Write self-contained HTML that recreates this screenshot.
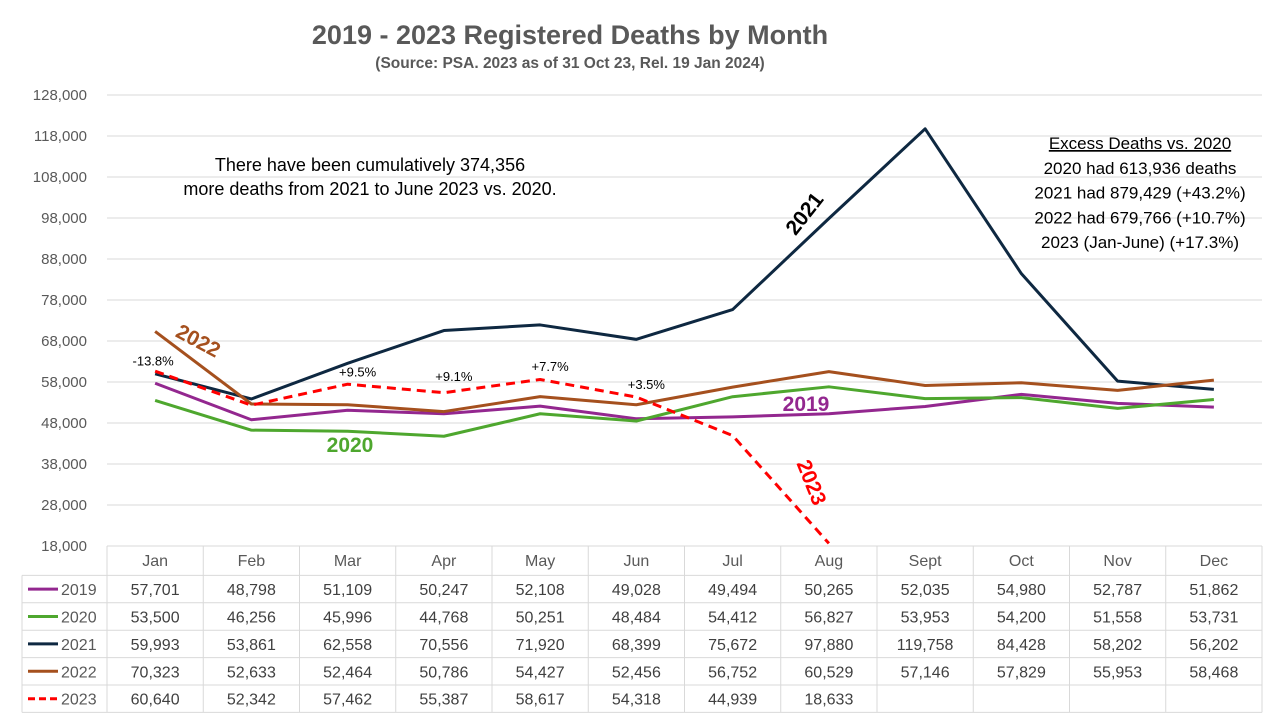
<!DOCTYPE html>
<html><head><meta charset="utf-8"><style>
body{margin:0;background:#fff;font-family:"Liberation Sans",sans-serif}
svg text{font-family:"Liberation Sans",sans-serif}
</style></head><body>
<svg id="c" width="1280" height="720" xmlns="http://www.w3.org/2000/svg"></svg>
<script>
const months=["Jan","Feb","Mar","Apr","May","Jun","Jul","Aug","Sept","Oct","Nov","Dec"];
const s2019=[57701,48798,51109,50247,52108,49028,49494,50265,52035,54980,52787,51862];
const s2020=[53500,46256,45996,44768,50251,48484,54412,56827,53953,54200,51558,53731];
const s2021=[59993,53861,62558,70556,71920,68399,75672,97880,119758,84428,58202,56202];
const s2022=[70323,52633,52464,50786,54427,52456,56752,60529,57146,57829,55953,58468];
const s2023=[60640,52342,57462,55387,58617,54318,44939,18633];
const yTicks=[18000,28000,38000,48000,58000,68000,78000,88000,98000,108000,118000,128000];
const pctLabels=["-13.8%","","+9.5%","+9.1%","+7.7%","+3.5%"];
const pctVals=[62000,0,59400,58300,60700,56300];
const NS="http://www.w3.org/2000/svg";
const svg=document.getElementById('c');
const X0=107,CW=96.25,Y0=546,Y1=95;
const x=i=>X0+CW*(i+0.5);
const y=v=>Y0-(v-18000)/(128000-18000)*(Y0-Y1);
function el(t,a,txt){const e=document.createElementNS(NS,t);for(const k in a)e.setAttribute(k,a[k]);if(txt!==undefined)e.textContent=txt;svg.appendChild(e);return e;}
const fmt=n=>n.toLocaleString('en-US');
let e=el('text',{x:570,y:44,'text-anchor':'middle','font-size':27,'font-weight':'bold',fill:'#595959'},'2019 - 2023 Registered Deaths by Month');

e=el('text',{x:570,y:68,'text-anchor':'middle','font-size':15.5,'font-weight':'bold',fill:'#595959'},'(Source: PSA.  2023 as of 31 Oct 23, Rel. 19 Jan 2024)');

yTicks.forEach(t=>{
 const g=el('line',{x1:107,x2:1262,y1:y(t),y2:y(t),stroke:'#d9d9d9','stroke-width':1});
 
 const l=el('text',{x:87,y:y(t)+5,'text-anchor':'end','font-size':15,fill:'#595959'},fmt(t));
 
});
const series=[["2019",s2019,'#93278F',false],["2020",s2020,'#4EA72E',false],["2021",s2021,'#0E2841',false],["2022",s2022,'#A5501E',false],["2023",s2023,'#FF0000',true]];
const RH=27.4,TT=546,TL=22;
for(let r=0;r<=6;r++){const yy=TT+r*RH+(r>0?2:0);const ln=el('line',{x1:r==0?X0:TL,x2:1262,y1:yy,y2:yy,stroke:'#d9d9d9'});}
const TB=TT+6*RH+2;
for(let c=0;c<=12;c++){const ln=el('line',{x1:X0+c*CW,x2:X0+c*CW,y1:TT,y2:TB,stroke:'#d9d9d9'});}
el('line',{x1:TL,x2:TL,y1:TT+RH+2,y2:TB,stroke:'#d9d9d9'});
months.forEach((m,i)=>{const t=el('text',{x:x(i),y:TT+20,'text-anchor':'middle','font-size':16,fill:'#595959'},m);});
series.forEach((s,r)=>{
 const cy=TT+(r+1)*RH+2+RH/2;
 const k=el('line',{x1:28,x2:58,y1:cy,y2:cy,stroke:s[2],'stroke-width':3,'stroke-dasharray':s[3]?'7 4':'none'});
 
 const lt=el('text',{x:61,y:cy+6,'font-size':16,fill:'#595959'},s[0]);
 
 s[1].forEach((v,i)=>{const t=el('text',{x:x(i),y:cy+6,'text-anchor':'middle','font-size':16,fill:'#404040'},fmt(v));});
});
series.forEach(s=>{
 const p=el('polyline',{points:s[1].map((v,i)=>x(i)+','+y(v)).join(' '),fill:'none',stroke:s[2],'stroke-width':3,'stroke-linejoin':'round','stroke-dasharray':s[3]?'9 6':'none'});
 
});
pctLabels.forEach((l,i)=>{if(!l)return;const t=el('text',{x:x(i)+(i==0?-2:10),y:y(pctVals[i]),'text-anchor':'middle','font-size':13,fill:'#000'},l);});
function lab(txt,xx,yy,col,rot,name){const t=el('text',{x:xx,y:yy,'text-anchor':'middle','font-size':21,'font-weight':'bold',fill:col,transform:'rotate('+rot+' '+xx+' '+yy+')'},txt);}
lab('2022',195,347,'#A5501E',28,'label-2022');
lab('2021',810,218,'#000',-52,'label-2021');
lab('2019',806,411,'#93278F',0,'label-2019');
lab('2020',350,452,'#4EA72E',0,'label-2020');
lab('2023',805,485,'#FF0000',68,'label-2023');
e=el('text',{x:370,y:171,'text-anchor':'middle','font-size':18,fill:'#000'},'There have been cumulatively 374,356');
e=el('text',{x:370,y:195,'text-anchor':'middle','font-size':18,fill:'#000'},'more deaths from 2021 to June 2023 vs. 2020.');
const ex=["Excess Deaths vs. 2020","2020 had 613,936 deaths","2021 had 879,429 (+43.2%)","2022 had 679,766 (+10.7%)","2023 (Jan-June) (+17.3%)"];
ex.forEach((t,i)=>{const a=el('text',{x:1140,y:149+i*24.8,'text-anchor':'middle','font-size':17,fill:'#000','text-decoration':i==0?'underline':'none'},t);});
</script>
</body></html>
